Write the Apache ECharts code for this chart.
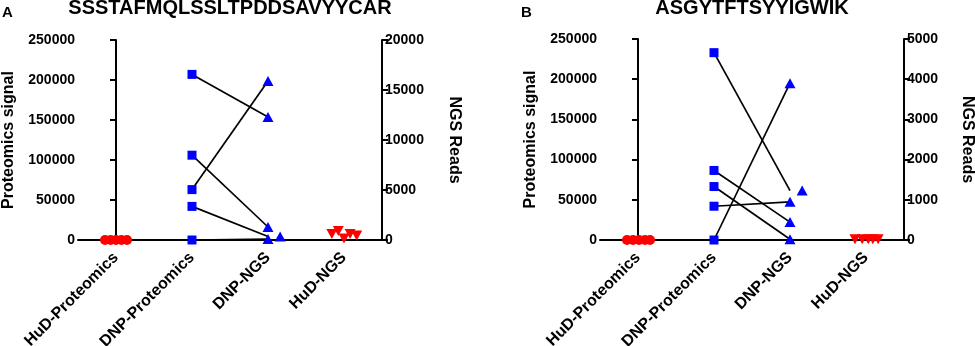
<!DOCTYPE html>
<html>
<head>
<meta charset="utf-8">
<script src="https://cdn.jsdelivr.net/npm/echarts@6/dist/echarts.min.js"></script>
<style>html,body{margin:0;padding:0;background:#fff}#c{width:975px;height:346px}</style>
</head>
<body>
<div id="c"></div>
<script>
// ---- data ----
const categories = ['HuD-Proteomics', 'DNP-Proteomics', 'DNP-NGS', 'HuD-NGS'];
const titleA = 'SSSTAFMQLSSLTPDDSAVYYCAR';
const titleB = 'ASGYTFTSYYIGWIK';
const leftTicks = [0, 50000, 100000, 150000, 200000, 250000];
const rightTicksA = [0, 5000, 10000, 15000, 20000];
const rightTicksB = [0, 1000, 2000, 3000, 4000, 5000];

// Panel A
const hudProtA = [0, 0, 0, 0, 0];
const hudProtJitterA = [-0.145, -0.072, 0, 0.072, 0.145];
const dnpProtA = [207000, 106000, 63000, 42000, 0];
const dnpNgsA = [12300, 1300, 15900, 350, 100];      // paired with dnpProtA by index
const dnpNgsJitterA = [0, 0, 0, 0.16, 0];
const hudNgsA = [600, 900, 150, 600, 450];
const hudNgsJitterA = [-0.16, -0.075, 0, 0.08, 0.167];

// Panel B
const hudProtB = [0, 0, 0, 0, 0];
const hudProtJitterB = [-0.145, -0.066, 0.013, 0.092, 0.158];
const dnpProtB = [233000, 86500, 66500, 42000, 0];
const dnpNgsB = [1230, 445, 20, 950, 3900];           // paired with dnpProtB by index
const dnpNgsJitterB = [0.16, 0, 0, 0, 0];
const hudNgsB = [20, 20, 20, 20, 20];
const hudNgsJitterB = [-0.145, -0.05, 0.03, 0.09, 0.16];

// ---- chart ----
const FONT = "'Liberation Sans', Arial, sans-serif";
const RED = '#ff0000', BLUE = '#0000ff';
const lineStyleAxis = { color: '#000', width: 2 };
const plain = v => String(v);

function panel(idx, gridCfg, rightTicks, rightNameGap, d) {
  const leftMax = leftTicks[leftTicks.length - 1];
  const rightMax = rightTicks[rightTicks.length - 1];
  const ratio = leftMax / rightMax;
  const xCat = {
    type: 'category', gridIndex: idx, data: categories, boundaryGap: true,
    axisLine: { lineStyle: lineStyleAxis },
    axisTick: { alignWithLabel: true, length: 5, lineStyle: lineStyleAxis },
    axisLabel: { rotate: 45, margin: 15, color: '#000', fontFamily: FONT, fontWeight: 'bold', fontSize: 16 },
    splitLine: { show: false }
  };
  const xVal = {
    type: 'value', gridIndex: idx, min: -0.5, max: 3.5, show: false
  };
  const yLeft = {
    type: 'value', gridIndex: idx, position: 'left', min: 0, max: leftMax, interval: leftTicks[1] - leftTicks[0],
    name: 'Proteomics signal', nameLocation: 'middle', nameRotate: 90, nameGap: 61,
    nameTextStyle: { color: '#000', fontFamily: FONT, fontWeight: 'bold', fontSize: 16 },
    axisLine: { show: true, lineStyle: lineStyleAxis },
    axisTick: { show: true, length: 6, lineStyle: lineStyleAxis },
    axisLabel: { margin: 3, color: '#000', fontFamily: FONT, fontWeight: 'bold', fontSize: 14, formatter: plain },
    splitLine: { show: false }
  };
  const yRight = {
    type: 'value', gridIndex: idx, position: 'right', min: 0, max: rightMax, interval: rightTicks[1] - rightTicks[0],
    name: 'NGS Reads', nameLocation: 'middle', nameRotate: -90, nameGap: rightNameGap,
    nameTextStyle: { color: '#000', fontFamily: FONT, fontWeight: 'bold', fontSize: 16 },
    axisLine: { show: true, lineStyle: lineStyleAxis },
    axisTick: { show: true, length: 6, lineStyle: lineStyleAxis },
    axisLabel: { margin: 3, color: '#000', fontFamily: FONT, fontWeight: 'bold', fontSize: 14, formatter: plain },
    splitLine: { show: false }
  };
  const xValIdx = idx * 2 + 1;
  const yL = idx * 2, yR = idx * 2 + 1;
  const series = [];
  // connecting lines (NGS end converted to left-axis units so both ends share one scale)
  d.dnpProt.forEach((p, i) => {
    series.push({
      type: 'line', xAxisIndex: xValIdx, yAxisIndex: yL, symbol: 'none', z: 1, silent: true,
      lineStyle: { color: '#000', width: 1.7 },
      data: [[1, p], [2, d.dnpNgs[i] * ratio]]
    });
  });
  series.push({
    type: 'scatter', xAxisIndex: xValIdx, yAxisIndex: yL, symbol: 'circle', symbolSize: 10, z: 3,
    itemStyle: { color: RED, opacity: 1 },
    data: d.hudProt.map((v, i) => [0 + d.hudProtJitter[i], v])
  });
  series.push({
    type: 'scatter', xAxisIndex: xValIdx, yAxisIndex: yL, symbol: 'rect', symbolSize: 9, z: 3,
    itemStyle: { color: BLUE, opacity: 1 },
    data: d.dnpProt.map(v => [1, v])
  });
  series.push({
    type: 'scatter', xAxisIndex: xValIdx, yAxisIndex: yR, symbol: 'triangle', symbolSize: [11, 10], z: 3,
    itemStyle: { color: BLUE, opacity: 1 },
    data: d.dnpNgs.map((v, i) => [2 + d.dnpNgsJitter[i], v])
  });
  series.push({
    type: 'scatter', xAxisIndex: xValIdx, yAxisIndex: yR, symbol: 'triangle', symbolRotate: 180, symbolSize: [11, 10], z: 3,
    itemStyle: { color: RED, opacity: 1 },
    data: d.hudNgs.map((v, i) => [3 + d.hudNgsJitter[i], v])
  });
  return { grid: gridCfg, xAxes: [xCat, xVal], yAxes: [yLeft, yRight], series };
}

const pA = panel(0, { left: 78, top: 40, width: 304, height: 200, containLabel: false, outerBoundsMode: 'none' }, rightTicksA, 64,
  { hudProt: hudProtA, hudProtJitter: hudProtJitterA, dnpProt: dnpProtA, dnpNgs: dnpNgsA, dnpNgsJitter: dnpNgsJitterA, hudNgs: hudNgsA, hudNgsJitter: hudNgsJitterA });
const pB = panel(1, { left: 600, top: 39, width: 304, height: 201, containLabel: false, outerBoundsMode: 'none' }, rightTicksB, 55,
  { hudProt: hudProtB, hudProtJitter: hudProtJitterB, dnpProt: dnpProtB, dnpNgs: dnpNgsB, dnpNgsJitter: dnpNgsJitterB, hudNgs: hudNgsB, hudNgsJitter: hudNgsJitterB });

const chart = echarts.init(document.getElementById('c'), null, { renderer: 'canvas' });
chart.setOption({
  animation: false,
  backgroundColor: '#fff',
  grid: [pA.grid, pB.grid],
  xAxis: [...pA.xAxes, ...pB.xAxes],
  yAxis: [...pA.yAxes, ...pB.yAxes],
  series: [...pA.series, ...pB.series],
  graphic: [
    { type: 'text', x: 2, y: 13, style: { text: 'A', font: 'bold 15px ' + FONT, fill: '#000', textVerticalAlign: 'middle' } },
    { type: 'text', x: 230, y: 8, style: { text: titleA, font: 'bold 20px ' + FONT, fill: '#000', textAlign: 'center', textVerticalAlign: 'middle' } },
    { type: 'text', x: 521, y: 13, style: { text: 'B', font: 'bold 15px ' + FONT, fill: '#000', textVerticalAlign: 'middle' } },
    { type: 'text', x: 752, y: 8, style: { text: titleB, font: 'bold 20px ' + FONT, fill: '#000', textAlign: 'center', textVerticalAlign: 'middle' } }
  ]
});
</script>
</body>
</html>
